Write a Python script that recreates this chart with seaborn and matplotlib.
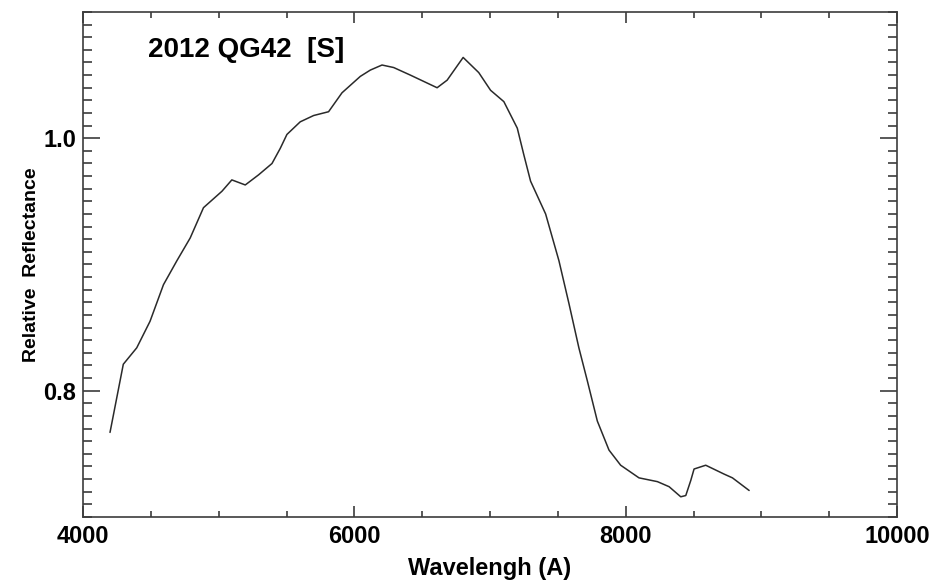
import matplotlib
matplotlib.use("Agg")
import matplotlib.pyplot as plt
from matplotlib.ticker import MultipleLocator, FormatStrFormatter
import numpy as np
import pandas as pd
import seaborn as sns

# Reflectance spectrum of asteroid 2012 QG42
wavelength = [4199, 4297, 4396, 4494, 4593, 4692, 4790, 4888, 5024, 5097,
              5196, 5294, 5393, 5454, 5503, 5601, 5700, 5810, 5909, 6044,
              6118, 6204, 6290, 6413, 6610, 6684, 6802, 6917, 7004, 7102,
              7201, 7249, 7299, 7410, 7508, 7582, 7655, 7717, 7791, 7877,
              7963, 8098, 8234, 8320, 8406, 8443, 8480, 8504, 8590, 8725,
              8787, 8910]
reflectance = [0.767, 0.821, 0.834, 0.855, 0.884, 0.903, 0.921, 0.945, 0.958, 0.967,
               0.963, 0.971, 0.980, 0.992, 1.003, 1.013, 1.018, 1.021, 1.036, 1.049,
               1.054, 1.058, 1.056, 1.050, 1.040, 1.046, 1.064, 1.052, 1.038, 1.029,
               1.008, 0.987, 0.966, 0.940, 0.903, 0.869, 0.834, 0.808, 0.776, 0.753,
               0.741, 0.731, 0.728, 0.724, 0.716, 0.717, 0.729, 0.738, 0.741, 0.734,
               0.731, 0.721]

object_name = "2012 QG42  [S]"
x_label = "Wavelengh (A)"
y_label = "Relative  Reflectance"

sns.set_theme(style="ticks")
plt.rcParams["font.family"] = ["Liberation Sans", "DejaVu Sans"]
plt.rcParams["font.weight"] = "bold"

df = pd.DataFrame({"wavelength": wavelength, "reflectance": reflectance})

fig = plt.figure(figsize=(9.38, 5.82), dpi=100)
ax = fig.add_axes([0.0885, 0.1117, 0.8678, 0.8677])

sns.lineplot(data=df, x="wavelength", y="reflectance", ax=ax,
             color="#2a2a2a", linewidth=1.1, estimator=None, sort=False)

ax.set_xlim(4000, 10000)
ax.set_ylim(0.7, 1.1)

ax.xaxis.set_major_locator(MultipleLocator(2000))
ax.xaxis.set_minor_locator(MultipleLocator(500))
ax.yaxis.set_major_locator(MultipleLocator(0.2))
ax.yaxis.set_minor_locator(MultipleLocator(0.01))
ax.yaxis.set_major_formatter(FormatStrFormatter("%.1f"))

spine_color = "#3c3c3c"
for s in ax.spines.values():
    s.set_color(spine_color)
    s.set_linewidth(1.2)

ax.tick_params(axis="both", which="both", direction="in", top=True, right=True,
               color=spine_color, width=1.2, labelcolor="black", labelsize=17)
ax.tick_params(axis="x", which="major", length=8, pad=6)
ax.tick_params(axis="x", which="minor", length=4)
ax.tick_params(axis="y", which="major", length=12, pad=5)
ax.tick_params(axis="y", which="minor", length=6.5)
for lab in ax.get_xticklabels() + ax.get_yticklabels():
    lab.set_fontweight("bold")

ax.set_xlabel(x_label, fontsize=17, fontweight="bold", labelpad=6, color="black")
ax.set_ylabel(y_label, fontsize=14, fontweight="bold", labelpad=2, color="black")

ax.text(0.08, 0.925, object_name, transform=ax.transAxes, fontsize=20,
        fontweight="bold", ha="left", va="center", color="black")

fig.savefig("out.png", dpi=100, facecolor="white")
